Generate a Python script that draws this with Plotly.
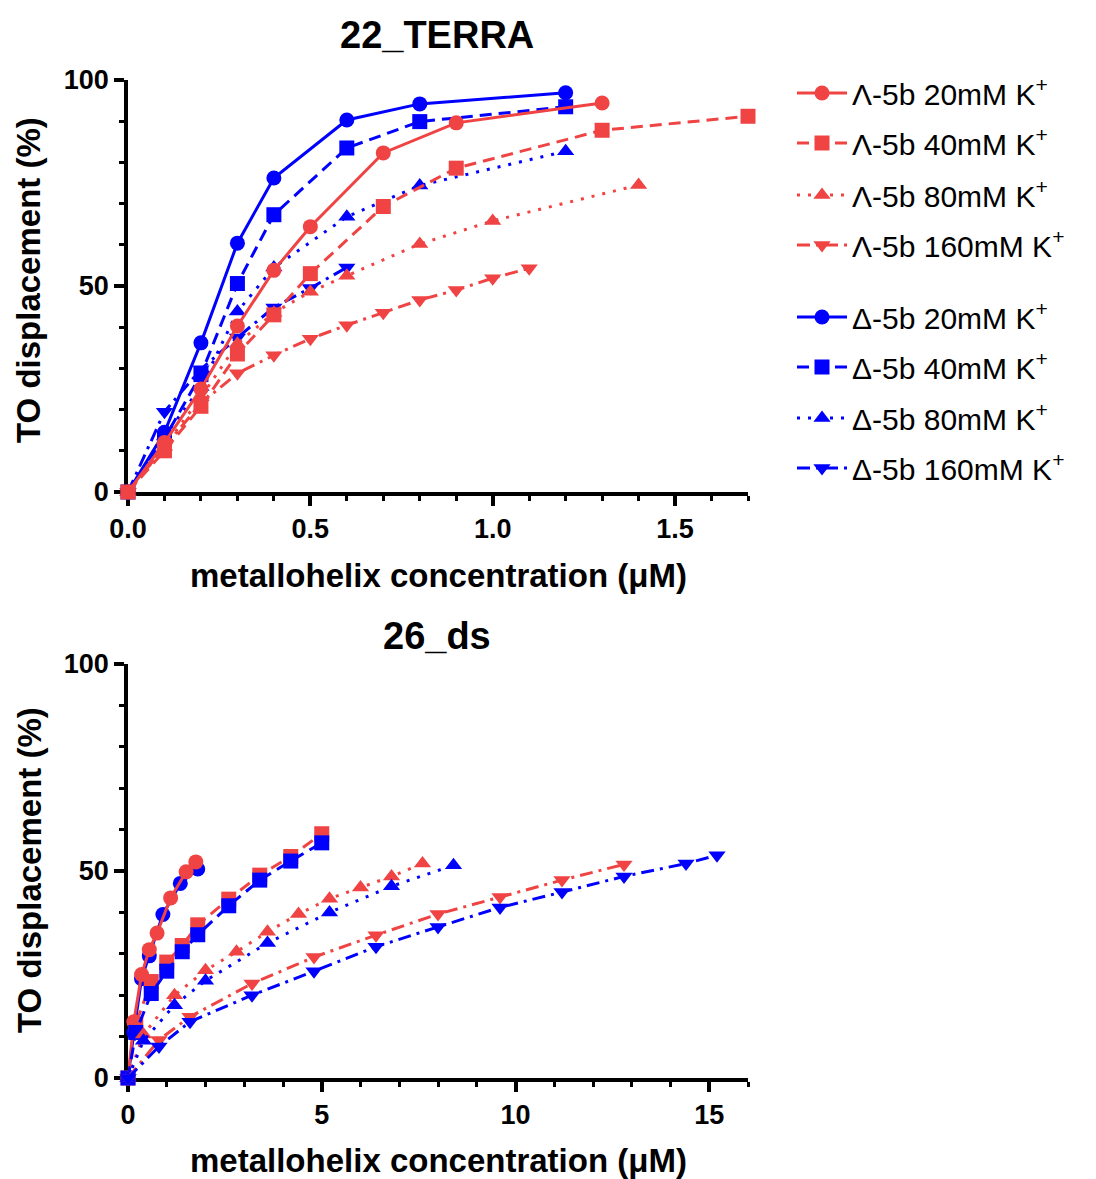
import plotly.graph_objects as go

# ---------------- data: 22_TERRA (top) ----------------
tx_L20 = [0, 0.1, 0.2, 0.3, 0.4, 0.5, 0.7, 0.9, 1.3]
ty_L20 = [0, 12, 25, 40.3, 53.8, 64.4, 82.3, 89.6, 94.4]
tx_L40 = [0, 0.1, 0.2, 0.3, 0.4, 0.5, 0.7, 0.9, 1.3, 1.7]
ty_L40 = [0, 10, 20.8, 33.5, 43, 53, 69.3, 78.6, 87.8, 91.2]
tx_L80 = [0, 0.1, 0.2, 0.3, 0.4, 0.5, 0.6, 0.8, 1.0, 1.4]
ty_L80 = [0, 11, 23, 36, 43.5, 48.6, 52.5, 60.2, 65.8, 74.5]
tx_L160 = [0, 0.1, 0.2, 0.3, 0.4, 0.5, 0.6, 0.7, 0.8, 0.9, 1.0, 1.1]
ty_L160 = [0, 11, 21.5, 28.8, 33.2, 37.2, 40.5, 43.5, 46.6, 49, 51.9, 54.3]
tx_D20 = [0, 0.1, 0.2, 0.3, 0.4, 0.6, 0.8, 1.2]
ty_D20 = [0, 14.5, 36.2, 60.4, 76.2, 90.3, 94.2, 96.9]
tx_D40 = [0, 0.1, 0.2, 0.3, 0.4, 0.6, 0.8, 1.2]
ty_D40 = [0, 13, 28.5, 50.6, 67.3, 83.5, 89.9, 93.5]
tx_D80 = [0, 0.1, 0.2, 0.3, 0.4, 0.6, 0.8, 1.2]
ty_D80 = [0, 13.5, 25.5, 43.8, 54.5, 66.8, 74.4, 82.7]
tx_D160 = [0, 0.1, 0.2, 0.3, 0.4, 0.5, 0.6]
ty_D160 = [0, 19.5, 29.8, 37.5, 44.8, 49.5, 54.5]

# ---------------- data: 26_ds (bottom) ----------------
bx_L20 = [0, 0.15, 0.35, 0.55, 0.75, 1.1, 1.5, 1.75]
by_L20 = [0, 13.6, 25, 31, 35, 43.5, 49.8, 52.2]
bx_D20 = [0, 0.15, 0.35, 0.55, 0.9, 1.35, 1.8]
by_D20 = [0, 11, 24, 29.5, 39.5, 47, 50.5]
bx_L40 = [0, 0.2, 0.6, 1.0, 1.4, 1.8, 2.6, 3.4, 4.2, 5.0]
by_L40 = [0, 13, 23.3, 28, 32, 37, 43.2, 49, 53.5, 59]
bx_D40 = [0, 0.2, 0.6, 1.0, 1.4, 1.8, 2.6, 3.4, 4.2, 5.0]
by_D40 = [0, 11, 20.4, 25.8, 30.5, 34.6, 41.6, 47.8, 52.4, 56.8]
bx_L80 = [0, 0.4, 1.2, 2.0, 2.8, 3.6, 4.4, 5.2, 6.0, 6.8, 7.6]
by_L80 = [0, 10.5, 20, 26, 30.5, 35.3, 39.6, 43.3, 46, 48.7, 51.8]
bx_D80 = [0, 0.4, 1.2, 2.0, 3.6, 5.2, 6.8, 8.4]
by_D80 = [0, 9, 17.6, 23.5, 32.6, 40, 46.3, 51.4]
bx_L160 = [0, 0.8, 1.6, 3.2, 4.8, 6.4, 8.0, 9.6, 11.2, 12.8]
by_L160 = [0, 9.2, 14.8, 22.8, 29.2, 34.5, 39.6, 43.7, 47.8, 51.6]
bx_D160 = [0, 0.8, 1.6, 3.2, 4.8, 6.4, 8.0, 9.6, 11.2, 12.8, 14.4, 15.2]
by_D160 = [0, 7.6, 13.6, 20, 25.8, 31.7, 36.5, 41.2, 44.9, 48.7, 51.8, 53.8]

labels = {
    "L20": "\u039b-5b 20mM K<sup>+</sup>",
    "L40": "\u039b-5b 40mM K<sup>+</sup>",
    "L80": "\u039b-5b 80mM K<sup>+</sup>",
    "L160": "\u039b-5b 160mM K<sup>+</sup>",
    "D20": "\u0394-5b 20mM K<sup>+</sup>",
    "D40": "\u0394-5b 40mM K<sup>+</sup>",
    "D80": "\u0394-5b 80mM K<sup>+</sup>",
    "D160": "\u0394-5b 160mM K<sup>+</sup>",
}

RED = "#F04343"
BLUE = "#0000FF"
FONT = "Arial, Liberation Sans, sans-serif"

style = {
    "20": dict(dash="solid", symbol="circle"),
    "40": dict(dash="12px,7px", symbol="square"),
    "80": dict(dash="3px,8px", symbol="triangle-up"),
    "160": dict(dash="13px,6px,3px,6px", symbol="triangle-down"),
}

legend_slot = {"L20": 0, "L40": 1, "L80": 2, "L160": 3, "D20": 4, "D40": 5, "D80": 6, "D160": 7}
legend_rows = [93, 143, 195, 245, 317, 367, 418, 468]

fig = go.Figure()


def add(x, y, key, xa, ya, show):
    col = RED if key.startswith("L") else BLUE
    st = style[key[1:]]
    slot = legend_slot[key]
    lname = "legend" if slot == 0 else "legend%d" % (slot + 1)
    fig.add_trace(go.Scatter(
        x=x, y=y, mode="lines+markers", name=labels[key],
        line=dict(color=col, width=3, dash=st["dash"]),
        marker=dict(color=col, size=15, symbol=st["symbol"]),
        xaxis=xa, yaxis=ya, cliponaxis=False,
        showlegend=show, legend=lname,
    ))


# top: blue drawn first, red above
add(tx_D20, ty_D20, "D20", "x", "y", True)
add(tx_D40, ty_D40, "D40", "x", "y", True)
add(tx_D80, ty_D80, "D80", "x", "y", True)
add(tx_D160, ty_D160, "D160", "x", "y", True)
add(tx_L160, ty_L160, "L160", "x", "y", True)
add(tx_L80, ty_L80, "L80", "x", "y", True)
add(tx_L20, ty_L20, "L20", "x", "y", True)
add(tx_L40, ty_L40, "L40", "x", "y", True)

# bottom
add(bx_D20, by_D20, "D20", "x2", "y2", False)
add(bx_L20, by_L20, "L20", "x2", "y2", False)
add(bx_L40, by_L40, "L40", "x2", "y2", False)
add(bx_D40, by_D40, "D40", "x2", "y2", False)
add(bx_L80, by_L80, "L80", "x2", "y2", False)
add(bx_D80, by_D80, "D80", "x2", "y2", False)
add(bx_L160, by_L160, "L160", "x2", "y2", False)
add(bx_D160, by_D160, "D160", "x2", "y2", False)

# the page body adds an 8px offset; figure coordinates are shifted to compensate
OFF = 8
W, H = 1096 - OFF, 1179 - OFF


def px_x(p):
    return (p - OFF) / W


def px_y(p):
    return 1 - (p - OFF) / H


tickfont = dict(family=FONT, size=27, color="black", weight="bold")
axis_common = dict(
    showline=True, linewidth=3.5, linecolor="black", showgrid=False, zeroline=False,
    ticks="outside", ticklen=10, tickwidth=3.5, tickcolor="black",
    tickfont=tickfont, layer="below traces", fixedrange=True, automargin=False,
)
minor_common = dict(ticks="outside", ticklen=5, tickwidth=3, tickcolor="black")

layout = dict(
    width=W, height=H, paper_bgcolor="white", plot_bgcolor="white",
    margin=dict(l=0, r=0, t=0, b=0, pad=0, autoexpand=False),
    xaxis=dict(domain=[px_x(128), px_x(748)], range=[0, 1.7], anchor="y",
               tickvals=[0, 0.5, 1.0, 1.5], ticktext=["0.0", "0.5", "1.0", "1.5"],
               minor=dict(dtick=0.1, tick0=0, **minor_common), **axis_common),
    yaxis=dict(domain=[px_y(492), px_y(80)], range=[0, 100], anchor="x",
               tickvals=[0, 50, 100],
               minor=dict(dtick=10, tick0=0, **minor_common), **axis_common),
    xaxis2=dict(domain=[px_x(128), px_x(748)], range=[0, 16], anchor="y2",
                tickvals=[0, 5, 10, 15],
                minor=dict(dtick=1, tick0=0, **minor_common), **axis_common),
    yaxis2=dict(domain=[px_y(1078), px_y(664)], range=[0, 100], anchor="x2",
                tickvals=[0, 50, 100],
                minor=dict(dtick=10, tick0=0, **minor_common), **axis_common),
)

for i, row in enumerate(legend_rows):
    lname = "legend" if i == 0 else "legend%d" % (i + 1)
    layout[lname] = dict(
        x=px_x(792), y=px_y(row), xanchor="left", yanchor="middle",
        font=dict(family=FONT, size=30, color="black"),
        bgcolor="rgba(0,0,0,0)", borderwidth=0, itemwidth=50,
    )

fig.update_layout(**layout)

ann_font_title = dict(family=FONT, size=38, color="black", weight="bold")
ann_font_axis = dict(family=FONT, size=33, color="black", weight="bold")
annotations = [
    dict(text="22_TERRA", x=px_x(437), y=px_y(35), font=ann_font_title),
    dict(text="26_ds", x=px_x(437), y=px_y(636), font=ann_font_title),
    dict(text="metallohelix concentration (\u03bcM)", x=px_x(438), y=px_y(575), font=ann_font_axis),
    dict(text="metallohelix concentration (\u03bcM)", x=px_x(438), y=px_y(1160), font=ann_font_axis),
    dict(text="TO displacement (%)", x=px_x(29), y=px_y(280), font=ann_font_axis, textangle=-90),
    dict(text="TO displacement (%)", x=px_x(29), y=px_y(870), font=ann_font_axis, textangle=-90),
]
for a in annotations:
    a.update(xref="paper", yref="paper", xanchor="center", yanchor="middle", showarrow=False)
fig.update_layout(annotations=annotations)

fig.write_html("out.html")
